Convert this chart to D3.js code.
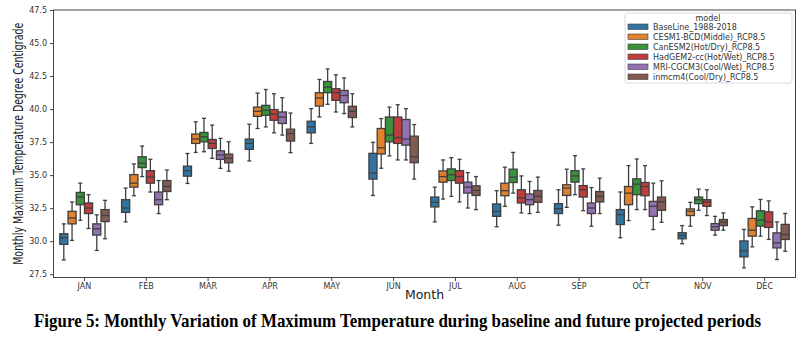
<!DOCTYPE html>
<html>
<head>
<meta charset="utf-8">
<script src="https://cdn.jsdelivr.net/npm/d3@7"></script>
<style>
  body { margin: 0; background: #fff; }
  svg { display: block; }
</style>
</head>
<body>
<svg id="chart" width="806" height="338"></svg>
<script>
var months = ["JAN", "FEB", "MAR", "APR", "MAY", "JUN", "JUL", "AUG", "SEP", "OCT", "NOV", "DEC"];
var models = ["BaseLine_1988-2018", "CESM1-BCD(Middle)_RCP8.5", "CanESM2(Hot/Dry)_RCP8.5",
  "HadGEM2-cc(Hot/Wet)_RCP8.5", "MRI-CGCM3(Cool/Wet)_RCP8.5", "inmcm4(Cool/Dry)_RCP8.5"];
var colors = ["#3274a1", "#e1812c", "#3a923a", "#c03d3e", "#9372b2", "#845b53"];
var yTicks = [27.5, 30.0, 32.5, 35.0, 37.5, 40.0, 42.5, 45.0, 47.5];

// each row: [whisker low, q1, median, q3, whisker high]
var baseline = [
  [28.58, 29.76, 30.26, 30.56, 31.31], [31.46, 32.18, 32.51, 33.14, 34.02], [34.37, 34.92, 35.33, 35.68, 36.64],
  [36.07, 36.95, 37.40, 37.73, 38.85], [37.40, 38.20, 38.65, 39.08, 40.03], [33.46, 34.70, 35.15, 36.65, 37.48],
  [31.46, 32.59, 32.94, 33.34, 34.09], [31.09, 31.88, 32.26, 32.82, 33.82], [31.21, 32.09, 32.46, 32.84, 33.89],
  [30.26, 31.26, 32.01, 32.39, 33.72], [29.81, 30.18, 30.43, 30.64, 31.18], [27.98, 28.81, 29.27, 30.02, 30.89]
];
var cesm1 = [
  [30.06, 31.31, 31.76, 32.26, 32.97], [33.44, 34.09, 34.39, 35.04, 35.85], [36.72, 37.40, 37.73, 38.11, 39.04],
  [38.53, 39.45, 39.83, 40.15, 41.21], [39.40, 40.23, 40.83, 41.24, 42.24], [35.52, 36.60, 37.07, 38.53, 39.28],
  [33.19, 34.47, 34.89, 35.32, 36.15], [32.64, 33.44, 33.82, 34.39, 35.60], [32.56, 33.46, 34.02, 34.27, 35.45],
  [31.56, 32.76, 33.64, 34.14, 35.72], [31.13, 31.94, 32.26, 32.44, 32.94], [29.57, 30.38, 30.83, 31.72, 32.60]
];
var canesm2 = [
  [31.58, 32.76, 33.34, 33.69, 34.39], [34.89, 35.57, 35.90, 36.39, 37.20], [36.77, 37.52, 37.90, 38.23, 39.30],
  [38.65, 39.53, 39.91, 40.28, 41.48], [40.36, 41.24, 41.66, 42.09, 43.04], [36.45, 37.52, 38.03, 39.40, 40.15],
  [33.39, 34.59, 35.02, 35.47, 36.32], [33.64, 34.44, 34.85, 35.45, 36.72], [33.52, 34.47, 34.94, 35.34, 36.47],
  [32.39, 33.52, 34.32, 34.72, 36.22], [32.34, 32.84, 33.14, 33.34, 33.94], [30.38, 31.14, 31.59, 32.30, 33.16]
];
var hadgem2 = [
  [30.96, 32.09, 32.51, 32.89, 33.52], [33.72, 34.39, 34.85, 35.34, 36.20], [36.27, 37.02, 37.40, 37.70, 38.79],
  [38.20, 39.15, 39.61, 39.96, 41.16], [39.78, 40.66, 41.24, 41.54, 42.59], [36.15, 37.40, 37.85, 39.40, 40.33],
  [32.97, 34.39, 34.89, 35.34, 36.20], [32.14, 32.89, 33.27, 33.89, 34.94], [32.31, 33.34, 33.89, 34.21, 35.47],
  [32.39, 33.44, 34.14, 34.44, 35.72], [31.94, 32.64, 32.97, 33.14, 33.89], [30.13, 31.04, 31.46, 32.22, 33.05]
];
var mri = [
  [29.30, 30.46, 30.94, 31.31, 31.99], [32.09, 32.76, 33.14, 33.72, 34.59], [35.51, 36.19, 36.52, 36.84, 37.78],
  [38.03, 38.91, 39.40, 39.78, 40.86], [39.66, 40.48, 41.03, 41.41, 42.36], [36.15, 37.27, 37.73, 39.21, 40.03],
  [32.51, 33.64, 34.09, 34.47, 35.19], [32.09, 32.76, 33.14, 33.57, 34.52], [31.13, 32.09, 32.51, 32.89, 34.06],
  [30.88, 31.88, 32.64, 33.01, 34.39], [30.46, 30.83, 31.09, 31.33, 31.88], [28.61, 29.49, 29.87, 30.63, 31.46]
];
var inmcm4 = [
  [30.18, 31.48, 31.94, 32.39, 33.09], [33.14, 33.76, 34.14, 34.59, 35.39], [35.30, 35.93, 36.27, 36.59, 37.52],
  [36.70, 37.58, 38.15, 38.48, 39.70], [38.65, 39.36, 39.83, 40.21, 41.16], [34.70, 35.94, 36.39, 37.95, 38.83],
  [32.39, 33.46, 33.84, 34.19, 34.89], [32.18, 32.94, 33.39, 33.84, 34.85], [32.09, 32.97, 33.39, 33.76, 34.77],
  [31.43, 32.34, 32.97, 33.34, 34.57], [30.83, 31.18, 31.43, 31.64, 32.14], [29.24, 30.13, 30.51, 31.27, 32.10]
];
var series = [baseline, cesm1, canesm2, hadgem2, mri, inmcm4];

var svg = d3.select("#chart");
var plotL = 53.5, plotR = 795.5, plotT = 10, plotB = 277.5;
var edge = "#3f3f3f";

var x = d3.scaleBand().domain(months).range([plotL, plotR]);
var y = d3.scaleLinear().domain([27.25, 47.5]).range([plotB, plotT]);
var hue = d3.scaleBand().domain(d3.range(models.length))
  .range([0, x.bandwidth() * 0.8]);

// boxes
var boxes = [];
series.forEach(function(s, m){
  s.forEach(function(st, i){
    boxes.push({model: m, month: months[i], st: st});
  });
});

var g = svg.selectAll("g.box").data(boxes).enter().append("g").attr("class", "box");
var bw = hue.bandwidth() * 0.98;
function cx(d){ return x(d.month) + x.bandwidth() * 0.1 + hue(d.model) + hue.bandwidth() / 2; }

g.append("line")
  .attr("x1", cx).attr("x2", cx)
  .attr("y1", function(d){ return y(d.st[4]); })
  .attr("y2", function(d){ return y(d.st[3]); });
g.append("line")
  .attr("x1", cx).attr("x2", cx)
  .attr("y1", function(d){ return y(d.st[1]); })
  .attr("y2", function(d){ return y(d.st[0]); });
[0, 4].forEach(function(k){
  g.append("line")
    .attr("x1", function(d){ return cx(d) - bw / 4; })
    .attr("x2", function(d){ return cx(d) + bw / 4; })
    .attr("y1", function(d){ return y(d.st[k]); })
    .attr("y2", function(d){ return y(d.st[k]); });
});
g.append("rect")
  .attr("x", function(d){ return cx(d) - bw / 2; })
  .attr("y", function(d){ return y(d.st[3]); })
  .attr("width", bw)
  .attr("height", function(d){ return y(d.st[1]) - y(d.st[3]); })
  .style("fill", function(d){ return colors[d.model]; });
g.append("line")
  .attr("x1", function(d){ return cx(d) - bw / 2; })
  .attr("x2", function(d){ return cx(d) + bw / 2; })
  .attr("y1", function(d){ return y(d.st[2]); })
  .attr("y2", function(d){ return y(d.st[2]); });
g.selectAll("line, rect").style("stroke", edge).style("stroke-width", 1.3);

// frame
svg.append("rect")
  .attr("x", plotL).attr("y", plotT)
  .attr("width", plotR - plotL).attr("height", plotB - plotT)
  .style("fill", "none").style("stroke", "#444").style("stroke-width", 1);

// axes
var yAxis = svg.append("g")
  .attr("transform", "translate(" + plotL + ",0)")
  .call(d3.axisLeft(y).tickValues(yTicks).tickFormat(d3.format(".1f")).tickSize(3.5).tickPadding(3));
var xAxis = svg.append("g")
  .attr("transform", "translate(0," + plotB + ")")
  .call(d3.axisBottom(x).tickSize(3.5).tickPadding(2));
[yAxis, xAxis].forEach(function(a){
  a.select(".domain").remove();
  a.selectAll("line").style("stroke", "#444");
  a.selectAll("text").style("font-family", "DejaVu Sans").style("font-size", "8px").style("fill", "#333");
});

svg.append("text")
  .attr("x", (plotL + plotR) / 2).attr("y", 299)
  .attr("text-anchor", "middle")
  .style("font-family", "DejaVu Sans").style("font-size", "12.5px").style("fill", "#222")
  .text("Month");

svg.append("text")
  .attr("transform", "translate(23," + ((plotT + plotB) / 2) + ") rotate(-90)")
  .attr("text-anchor", "middle")
  .attr("textLength", 242).attr("lengthAdjust", "spacingAndGlyphs")
  .style("font-family", "DejaVu Sans").style("font-size", "14.5px").style("fill", "#222")
  .text("Monthly Maximum Temperature Degree Centigrade");

// legend
var lg = svg.append("g").attr("transform", "translate(625,13)");
lg.append("rect")
  .attr("width", 167).attr("height", 70).attr("rx", 2)
  .style("fill", "#fff").style("stroke", "#d0d0d0").style("stroke-width", 0.8);
lg.append("text")
  .attr("x", 83).attr("y", 8)
  .attr("text-anchor", "middle")
  .style("font-family", "DejaVu Sans").style("font-size", "8px").style("fill", "#333")
  .text("model");
var item = lg.selectAll("g.item").data(models).enter().append("g")
  .attr("class", "item")
  .attr("transform", function(d, i){ return "translate(0," + (14 + i * 10) + ")"; });
item.append("rect")
  .attr("x", 3).attr("y", -3).attr("width", 20).attr("height", 5.5)
  .style("fill", function(d, i){ return colors[i]; })
  .style("stroke", edge).style("stroke-width", 0.6);
item.append("text")
  .attr("x", 28).attr("y", 3)
  .style("font-family", "DejaVu Sans").style("font-size", "8px").style("fill", "#333")
  .text(function(d){ return d; });

// caption
svg.append("text")
  .attr("x", 34).attr("y", 327)
  .attr("textLength", 727).attr("lengthAdjust", "spacingAndGlyphs")
  .style("font-family", "Liberation Serif").style("font-weight", "bold").style("font-size", "19px")
  .style("fill", "#000")
  .text("Figure 5: Monthly Variation of Maximum Temperature during baseline and future projected periods");
</script>
</body>
</html>
